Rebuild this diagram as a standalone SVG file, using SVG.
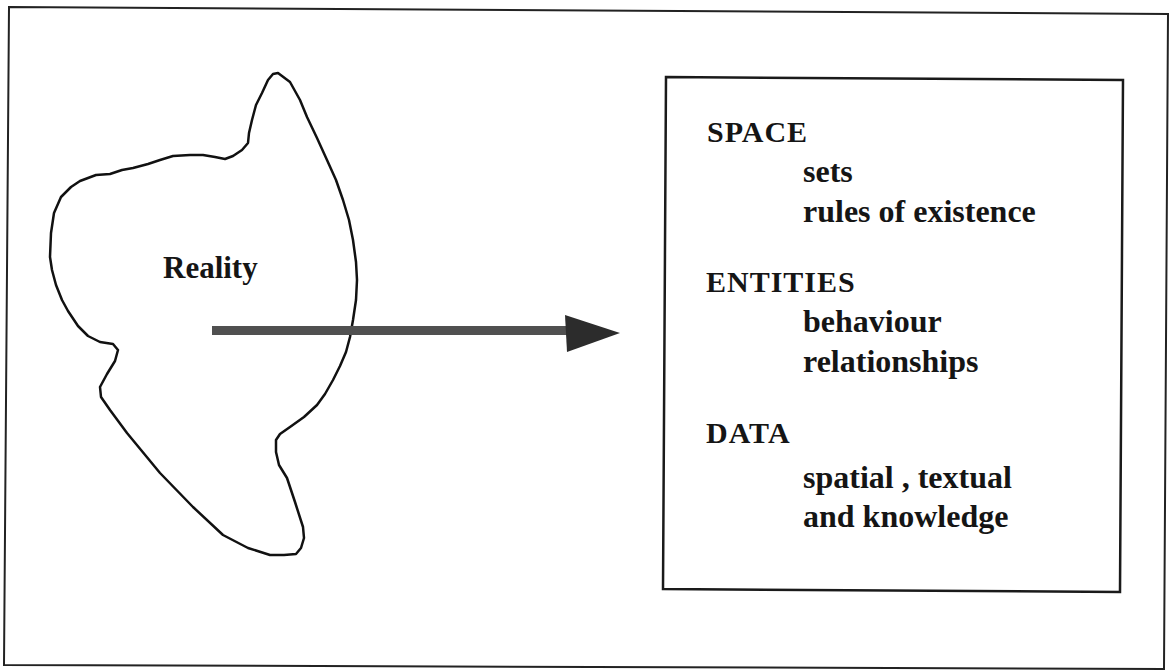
<svg xmlns="http://www.w3.org/2000/svg" width="1170" height="670" viewBox="0 0 1170 670">
  <style>
    .frame { fill: none; stroke: #222; stroke-width: 2; stroke-linejoin: miter; }
    .box { fill: none; stroke: #1a1a1a; stroke-width: 2.5; }
    .blob { fill: none; stroke: #111; stroke-width: 2.5; stroke-linejoin: round; stroke-linecap: round; }
    .t { font-family: "Liberation Serif", "Times New Roman", serif; font-weight: bold; font-size: 32px; fill: #151515; }
    .h { font-size: 30px; letter-spacing: 1px; }
    .r { font-size: 31px; }
    .shaft { fill: #505050; }
    .head { fill: #2c2c2c; }
  </style>
  <rect width="1170" height="670" fill="#ffffff"/>
  <polygon id="outer-frame" class="frame" points="9,7 1168,14 1164,669 4,665"/>

  <g id="reality">
    <path class="blob" d="M278,73 L290,82 L300,100 L307,117 L317,138 L327,160 L336,180 L343,200 L349,220 L353,240 L356,262 L357,280 L356,300 L353,320 L350,337 L346,352 L340,366 L333,380 L325,394 L317,405 L304,417 L290,427 L280,434 L276,440 L276,452 L279,465 L287,478 L295,502 L303,527 L304,538 L301,548 L296,554 L284,555 L270,555 L248,548 L223,535 L193,507 L160,473 L127,433 L110,410 L101,397 L100,387 L107,374 L115,361 L118,350 L113,344 L100,342 L88,336 L78,326 L68,311 L62,300 L56,285 L52,270 L50,257 L51,233 L54,213 L61,197 L71,187 L80,181 L96,175 L110,174 L122,170 L133,168 L148,164 L160,160 L173,156 L190,155 L203,155 L215,157 L225,159 L233,156 L242,150 L248,143 L249,133 L252,120 L256,105 L262,93 L268,80 L273,74 Z"/>
    <text class="t r" x="163" y="278">Reality</text>
  </g>

  <g id="model">
    <polygon class="box" points="666,77 1123,80 1120,592 663,589"/>
    <text class="t h" x="707" y="142">SPACE</text>
    <text class="t" x="803" y="182">sets</text>
    <text class="t" x="803" y="222">rules of existence</text>
    <text class="t h" x="706" y="292">ENTITIES</text>
    <text class="t" x="803" y="332">behaviour</text>
    <text class="t" x="803" y="372">relationships</text>
    <text class="t h" x="706" y="443">DATA</text>
    <text class="t" x="803" y="488">spatial , textual</text>
    <text class="t" x="803" y="527">and knowledge</text>
  </g>

  <g id="connectors">
    <rect class="shaft" x="212" y="326" width="356" height="9"/>
    <polygon class="head" points="565,315 620,333 567,352"/>
  </g>
</svg>
